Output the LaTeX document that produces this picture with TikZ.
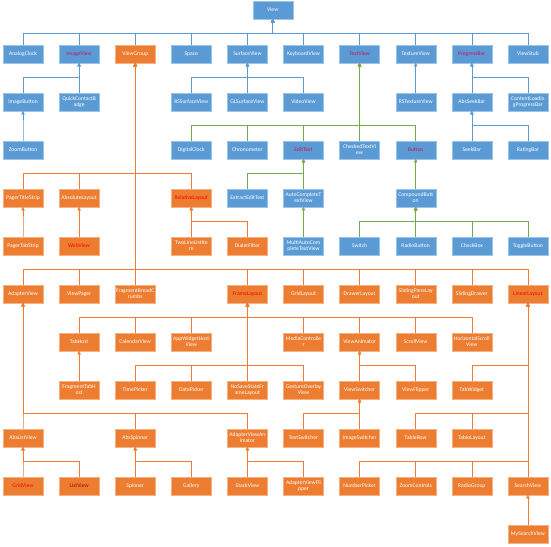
\documentclass[tikz,border=0pt]{standalone}
\usepackage{fontspec}
\setmainfont{Carlito}
\usepackage{tikz}
\usetikzlibrary{arrows.meta}
\definecolor{cb}{RGB}{91,155,213}
\definecolor{cbl}{RGB}{157,195,230}
\definecolor{co}{RGB}{237,125,49}
\definecolor{col}{RGB}{244,177,131}
\definecolor{cg}{RGB}{112,173,71}
\definecolor{rt}{RGB}{200,20,90}
\definecolor{rr}{RGB}{255,0,0}
\definecolor{dr}{RGB}{170,0,0}

\begin{document}
\begin{tikzpicture}[x=2.805cm, y=-2.4cm, font=\fontsize{8}{8.5}\selectfont,
        kb/.style={draw=cbl, fill=cb, text=white, line width=0.4pt, minimum width=20mm,
                   minimum height=8.75mm, inner xsep=0.5pt, inner ysep=1pt, align=center},
        ko/.style={kb, draw=col, fill=co},
        lb/.style={draw=cb, line width=0.8pt, -{Triangle[length=1.8mm, width=1.8mm]}},
        lo/.style={lb, draw=co},
        lg/.style={lb, draw=cg}]

    \useasboundingbox (-0.41,-0.125) rectangle (9.412,11.27);

    % View
    \node[kb] (view) at (4.45, 0.083) {View};

    \node[kb] (ac) at (0, 1) {AnalogClock};
    \node[kb, text=rt] (iv) at (1, 1) {ImageView};
    \node[ko] (vg) at (2, 1) {ViewGroup};
    \node[kb] (sp) at (3, 1) {Space};
    \node[kb] (sv) at (4, 1) {SurfaceView};
    \node[kb] (kv) at (5, 1) {KeyboardView};
    \node[kb, text=rt] (tv) at (6, 1) {TextView};
    \node[kb] (txv) at (7, 1) {TextureView};
    \node[kb, text=rt] (pb) at (8, 1) {ProgressBar};
    \node[kb] (vs) at (9, 1) {ViewStub};

    \node[kb] (ib) at (0, 2) {ImageButton};
    \node[kb] (qcb) at (1, 2) {QuickContactB\\adge};
    \node[kb] (rss) at (3, 2) {RSSurfaceView};
    \node[kb] (gls) at (4, 2) {GLSurfaceView};
    \node[kb] (vv) at (5, 2) {VideoView};
    \node[kb] (rst) at (7, 2) {RSTextureView};
    \node[kb] (asb) at (8, 2) {AbsSeekBar};
    \node[kb] (clp) at (9, 2) {ContentLoadin\\gProgressBar};

    \node[kb] (zb) at (0, 3) {ZoomButton};
    \node[kb] (dc) at (3, 3) {DigitalClock};
    \node[kb] (chr) at (4, 3) {Chronometer};
    \node[kb, text=rt] (et) at (5, 3) {EditText};
    \node[kb] (ctv) at (6, 3) {CheckedTextVi\\ew};
    \node[kb, text=rt] (bt) at (7, 3) {Button};
    \node[kb] (skb) at (8, 3) {SeekBar};
    \node[kb] (rb) at (9, 3) {RatingBar};

    \node[ko] (pts) at (0, 4) {PagerTitleStrip};
    \node[ko] (al) at (1, 4) {AbsoluteLayout};
    \node[ko, text=rr] (rl) at (3, 4) {RelativeLayout};
    \node[kb] (eet) at (4, 4) {ExtractEditText};
    \node[kb] (actv) at (5, 4) {AutoCompleteT\\extView};
    \node[kb] (cbt) at (7, 4) {CompoundButt\\on};

    \node[ko] (ptab) at (0, 5) {PagerTabStrip};
    \node[ko, text=rr] (wv) at (1, 5) {WebView};
    \node[ko] (tll) at (3, 5) {TwoLineListIte\\m};
    \node[ko] (df) at (4, 5) {DialerFilter};
    \node[kb] (mactv) at (5, 5) {MultiAutoCom\\pleteTextView};
    \node[kb] (sw) at (6, 5) {Switch};
    \node[kb] (rbt) at (7, 5) {RadioButton};
    \node[kb] (chb) at (8, 5) {CheckBox};
    \node[kb] (tb) at (9, 5) {ToggleButton};

    \node[ko] (adv) at (0, 6) {AdapterView};
    \node[ko] (vp) at (1, 6) {ViewPager};
    \node[ko] (fbc) at (2, 6) {FragmentBreadC\\rumbs};
    \node[ko, text=rr] (fl) at (4, 6) {FrameLayout};
    \node[ko] (gl) at (5, 6) {GridLayout};
    \node[ko] (dl) at (6, 6) {DrawerLayout};
    \node[ko] (spl) at (7, 6) {SlidingPaneLay\\out};
    \node[ko] (sd) at (8, 6) {SlidingDrawer};
    \node[ko, text=rr] (ll) at (9, 6) {LinearLayout};

    \node[ko] (th) at (1, 7) {TabHost};
    \node[ko] (cv) at (2, 7) {CalendarView};
    \node[ko] (awh) at (3, 7) {AppWidgetHost\\View};
    \node[ko] (mc) at (5, 7) {MediaControlle\\r};
    \node[ko] (va) at (6, 7) {ViewAnimator};
    \node[ko] (scv) at (7, 7) {ScrollView};
    \node[ko] (hsv) at (8, 7) {HorizontalScroll\\View};

    \node[ko] (fth) at (1, 8) {FragmentTabH\\ost};
    \node[ko] (tp) at (2, 8) {TimePicker};
    \node[ko] (dp) at (3, 8) {DatePicker};
    \node[ko] (nsf) at (4, 8) {NoSaveStateFr\\ameLayout};
    \node[ko] (gov) at (5, 8) {GestureOverlay\\View};
    \node[ko] (vsw) at (6, 8) {ViewSwitcher};
    \node[ko] (vf) at (7, 8) {ViewFlipper};
    \node[ko] (tw) at (8, 8) {TabWidget};

    \node[ko] (alv) at (0, 9) {AbsListView};
    \node[ko] (asp) at (2, 9) {AbsSpinner};
    \node[ko] (ava) at (4, 9) {AdapterViewAn\\imator};
    \node[ko] (ts) at (5, 9) {TextSwitcher};
    \node[ko] (is) at (6, 9) {ImageSwitcher};
    \node[ko] (tr) at (7, 9) {TableRow};
    \node[ko] (tl) at (8, 9) {TableLayout};

    \node[ko, text=rr] (gv) at (0, 10) {GridView};
    \node[ko, text=dr] (lv) at (1, 10) {ListView};
    \node[ko] (spn) at (2, 10) {Spinner};
    \node[ko] (gal) at (3, 10) {Gallery};
    \node[ko] (stv) at (4, 10) {StackView};
    \node[ko] (avf) at (5, 10) {AdapterViewFli\\pper};
    \node[ko] (np) at (6, 10) {NumberPicker};
    \node[ko] (zc) at (7, 10) {ZoomControls};
    \node[ko] (rg) at (8, 10) {RadioGroup};
    \node[ko] (srv) at (9, 10) {SearchView};

    \node[ko] (msv) at (9, 11) {MySearchView};

    % blauwe takken
    \draw[lb] (ac.north) -- ++(0,-0.24) -| (view.south);
    \draw[lb] (iv.north) -- ++(0,-0.24) -| (view.south);
    \draw[lb] (vg.north) -- ++(0,-0.24) -| (view.south);
    \draw[lb] (sp.north) -- ++(0,-0.24) -| (view.south);
    \draw[lb] (sv.north) -- ++(0,-0.24) -| (view.south);
    \draw[lb] (kv.north) -- ++(0,-0.24) -| (view.south);
    \draw[lb] (tv.north) -- ++(0,-0.24) -| (view.south);
    \draw[lb] (txv.north) -- ++(0,-0.24) -| (view.south);
    \draw[lb] (pb.north) -- ++(0,-0.24) -| (view.south);
    \draw[lb] (vs.north) -- ++(0,-0.24) -| (view.south);

    \draw[lb] (ib.north) -- ++(0,-0.32) -| (iv.south);
    \draw[lb] (qcb.north) -- ++(0,-0.32) -| (iv.south);
    \draw[lb] (zb.north) -- ++(0,-0.32) -| (ib.south);
    \draw[lb] (rss.north) -- ++(0,-0.32) -| (sv.south);
    \draw[lb] (gls.north) -- ++(0,-0.32) -| (sv.south);
    \draw[lb] (vv.north) -- ++(0,-0.32) -| (sv.south);
    \draw[lb] (rst.north) -- ++(0,-0.32) -| (txv.south);
    \draw[lb] (asb.north) -- ++(0,-0.32) -| (pb.south);
    \draw[lb] (clp.north) -- ++(0,-0.32) -| (pb.south);
    \draw[lb] (skb.north) -- ++(0,-0.32) -| (asb.south);
    \draw[lb] (rb.north) -- ++(0,-0.32) -| (asb.south);

    % groene takken
    \draw[lg] (dc.north) -- ++(0,-0.32) -| (tv.south);
    \draw[lg] (chr.north) -- ++(0,-0.32) -| (tv.south);
    \draw[lg] (et.north) -- ++(0,-0.32) -| (tv.south);
    \draw[lg] (ctv.north) -- ++(0,-0.32) -| (tv.south);
    \draw[lg] (bt.north) -- ++(0,-0.32) -| (tv.south);
    \draw[lg] (eet.north) -- ++(0,-0.32) -| (et.south);
    \draw[lg] (actv.north) -- ++(0,-0.32) -| (et.south);
    \draw[lg] (mactv.north) -- ++(0,-0.32) -| (actv.south);
    \draw[lg] (cbt.north) -- ++(0,-0.32) -| (bt.south);
    \draw[lg] (sw.north) -- ++(0,-0.32) -| (cbt.south);
    \draw[lg] (rbt.north) -- ++(0,-0.32) -| (cbt.south);
    \draw[lg] (chb.north) -- ++(0,-0.32) -| (cbt.south);
    \draw[lg] (tb.north) -- ++(0,-0.32) -| (cbt.south);

    % oranje takken
    \draw[lo] (pts.north) -- ++(0,-0.32) -| (vg.south);
    \draw[lo] (al.north) -- ++(0,-0.32) -| (vg.south);
    \draw[lo] (rl.north) -- ++(0,-0.32) -| (vg.south);
    \draw[lo] (ptab.north) -- ++(0,-0.32) -| (pts.south);
    \draw[lo] (wv.north) -- ++(0,-0.32) -| (al.south);
    \draw[lo] (tll.north) -- ++(0,-0.32) -| (rl.south);
    \draw[lo] (df.north) -- ++(0,-0.32) -| (rl.south);

    \draw[lo] (adv.north) -- ++(0,-0.32) -| (vg.south);
    \draw[lo] (vp.north) -- ++(0,-0.32) -| (vg.south);
    \draw[lo] (fbc.north) -- ++(0,-0.32) -| (vg.south);
    \draw[lo] (fl.north) -- ++(0,-0.32) -| (vg.south);
    \draw[lo] (gl.north) -- ++(0,-0.32) -| (vg.south);
    \draw[lo] (dl.north) -- ++(0,-0.32) -| (vg.south);
    \draw[lo] (spl.north) -- ++(0,-0.32) -| (vg.south);
    \draw[lo] (sd.north) -- ++(0,-0.32) -| (vg.south);
    \draw[lo] (ll.north) -- ++(0,-0.32) -| (vg.south);

    \draw[lo] (th.north) -- ++(0,-0.32) -| (fl.south);
    \draw[lo] (cv.north) -- ++(0,-0.32) -| (fl.south);
    \draw[lo] (awh.north) -- ++(0,-0.32) -| (fl.south);
    \draw[lo] (mc.north) -- ++(0,-0.32) -| (fl.south);
    \draw[lo] (va.north) -- ++(0,-0.32) -| (fl.south);
    \draw[lo] (scv.north) -- ++(0,-0.32) -| (fl.south);
    \draw[lo] (hsv.north) -- ++(0,-0.32) -| (fl.south);
    \draw[lo] (tp.north) -- ++(0,-0.32) -| (fl.south);
    \draw[lo] (dp.north) -- ++(0,-0.32) -| (fl.south);
    \draw[lo] (nsf.north) -- ++(0,-0.32) -| (fl.south);
    \draw[lo] (gov.north) -- ++(0,-0.32) -| (fl.south);
    \draw[lo] (fth.north) -- ++(0,-0.32) -| (th.south);
    \draw[lo] (vsw.north) -- ++(0,-0.32) -| (va.south);
    \draw[lo] (vf.north) -- ++(0,-0.32) -| (va.south);
    \draw[lo] (ts.north) -- ++(0,-0.32) -| (vsw.south);
    \draw[lo] (is.north) -- ++(0,-0.32) -| (vsw.south);

    \draw[lo] (alv.north) -- ++(0,-0.32) -| (adv.south);
    \draw[lo] (asp.north) -- ++(0,-0.32) -| (adv.south);
    \draw[lo] (ava.north) -- ++(0,-0.32) -| (adv.south);
    \draw[lo] (gv.north) -- ++(0,-0.32) -| (alv.south);
    \draw[lo] (lv.north) -- ++(0,-0.32) -| (alv.south);
    \draw[lo] (spn.north) -- ++(0,-0.32) -| (asp.south);
    \draw[lo] (gal.north) -- ++(0,-0.32) -| (asp.south);
    \draw[lo] (stv.north) -- ++(0,-0.32) -| (ava.south);
    \draw[lo] (avf.north) -- ++(0,-0.32) -| (ava.south);

    \draw[lo] (tw.north) -- ++(0,-0.32) -| (ll.south);
    \draw[lo] (tr.north) -- ++(0,-0.32) -| (ll.south);
    \draw[lo] (tl.north) -- ++(0,-0.32) -| (ll.south);
    \draw[lo] (np.north) -- ++(0,-0.32) -| (ll.south);
    \draw[lo] (zc.north) -- ++(0,-0.32) -| (ll.south);
    \draw[lo] (rg.north) -- ++(0,-0.32) -| (ll.south);
    \draw[lo] (srv.north) -- ++(0,-0.32) -| (ll.south);
    \draw[lo] (msv.north) -- ++(0,-0.32) -| (srv.south);

\end{tikzpicture}
\end{document}
